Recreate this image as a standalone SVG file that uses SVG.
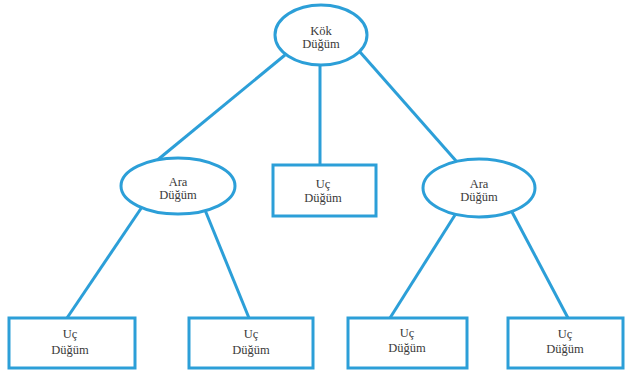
<svg xmlns="http://www.w3.org/2000/svg" width="627" height="371" viewBox="0 0 627 371">
<style>
.n{fill:#fff;stroke:#2c9fd8;stroke-width:3}
.e line{stroke:#2c9fd8;stroke-width:3}
text{font-family:"Liberation Serif","DejaVu Serif",serif;font-size:12.5px;fill:#3a3a3a;text-anchor:middle}
</style>
<rect width="627" height="371" fill="#fff"/>
<g class="e" id="connectors">
<line x1="285" y1="55" x2="155" y2="162"/>
<line x1="320" y1="65" x2="320" y2="165"/>
<line x1="360" y1="52" x2="457" y2="162"/>
<line x1="142" y1="207" x2="67" y2="318"/>
<line x1="205" y1="210" x2="249" y2="318"/>
<line x1="455" y1="215" x2="390" y2="318"/>
<line x1="512" y1="212" x2="568" y2="318"/>
</g>
<g id="root"><ellipse class="n" cx="321" cy="35" rx="46" ry="30"/><text x="321" y="35">Kök</text><text x="321" y="48">Düğüm</text></g>
<g id="araL"><ellipse class="n" cx="178" cy="186" rx="57" ry="28"/><text x="178" y="186">Ara</text><text x="178" y="199">Düğüm</text></g>
<g id="ucM"><rect class="n" x="273" y="165" width="103" height="51"/><text x="323" y="188">Uç</text><text x="323" y="202">Düğüm</text></g>
<g id="araR"><ellipse class="n" cx="479" cy="188" rx="56" ry="29"/><text x="479" y="188">Ara</text><text x="479" y="201">Düğüm</text></g>
<g id="uc1"><rect class="n" x="9" y="318" width="126" height="50"/><text x="70" y="338">Uç</text><text x="70" y="354">Düğüm</text></g>
<g id="uc2"><rect class="n" x="189" y="318" width="124" height="50"/><text x="251" y="338">Uç</text><text x="251" y="354">Düğüm</text></g>
<g id="uc3"><rect class="n" x="348" y="318" width="119" height="50"/><text x="407" y="337">Uç</text><text x="407" y="352">Düğüm</text></g>
<g id="uc4"><rect class="n" x="508" y="318" width="115" height="50"/><text x="565" y="338">Uç</text><text x="565" y="353">Düğüm</text></g>
</svg>
